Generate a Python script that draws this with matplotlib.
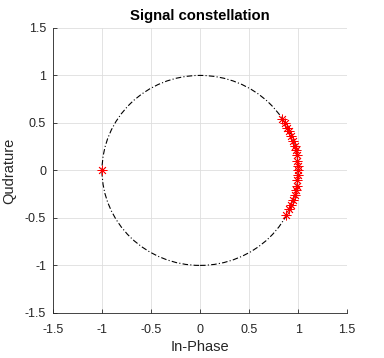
import numpy as np
import matplotlib
matplotlib.use('Agg')
import matplotlib.pyplot as plt

# received symbols (in-phase, quadrature)
i_vals = [-1.00,
          0.84, 0.87, 0.89, 0.91, 0.93, 0.95, 0.97, 0.98, 0.99, 0.99, 1.00,
          1.00, 1.00, 0.99, 0.99, 0.98, 0.97, 0.95, 0.93, 0.91, 0.88]
q_vals = [0.00,
          0.54, 0.50, 0.45, 0.41, 0.36, 0.31, 0.26, 0.21, 0.16, 0.10, 0.05,
          0.00, -0.05, -0.10, -0.16, -0.21, -0.26, -0.31, -0.36, -0.41, -0.47]
ticks = [-1.5, -1, -0.5, 0, 0.5, 1, 1.5]
tick_labels = ['-1.5', '-1', '-0.5', '0', '0.5', '1', '1.5']

plt.rcParams['font.family'] = ['Liberation Sans', 'DejaVu Sans']

fig = plt.figure(figsize=(3.84, 3.58), dpi=100)
ax = fig.add_axes([0.138, 0.126, 0.766, 0.796])

circ = plt.Circle((0, 0), 1, fill=False, color='black', linestyle=(0, (5, 2, 1, 2)),
                  linewidth=0.8, zorder=2)
ax.add_patch(circ)
# MATLAB style asterisk: 8 spokes
ax.plot(i_vals, q_vals, marker=(8, 2, 0), color='red', markersize=7,
        markeredgewidth=0.6, linestyle='none', zorder=3)

ax.set_xlim(-1.5, 1.5)
ax.set_ylim(-1.5, 1.5)
ax.set_xticks(ticks)
ax.set_xticklabels(tick_labels)
ax.set_yticks(ticks)
ax.set_yticklabels(tick_labels)
ax.tick_params(direction='in', length=3, labelsize=9, colors='#262626', width=0.6)
ax.tick_params(axis='x', pad=8)
ax.tick_params(axis='y', pad=5)
ax.grid(True, color='#dedede', linewidth=0.6)
ax.set_axisbelow(True)
for s in ['top', 'right']:
    ax.spines[s].set_visible(False)
for s in ['left', 'bottom']:
    ax.spines[s].set_linewidth(0.6)
    ax.spines[s].set_color('#262626')

ax.set_title('Signal constellation', fontsize=10.7, fontweight='bold', pad=6)
ax.set_xlabel('In-Phase', fontsize=10.5, color='#262626', labelpad=3)
ax.set_ylabel('Qudrature', fontsize=10.5, color='#262626', labelpad=6)

fig.savefig('out.png', dpi=100)
